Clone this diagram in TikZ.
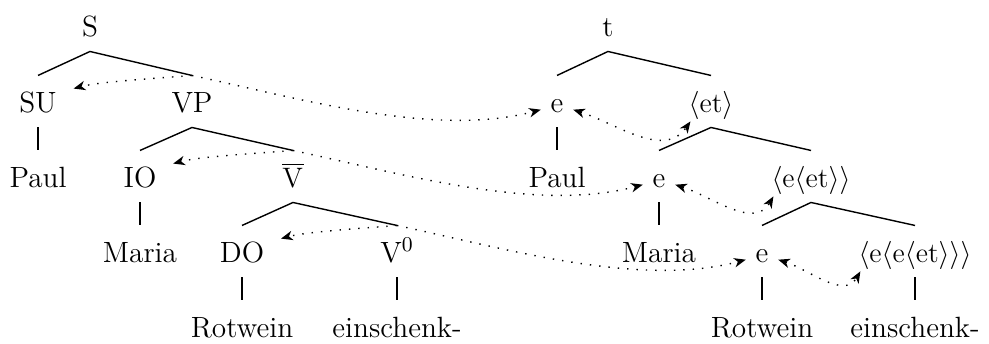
\documentclass[tikz,border=0pt]{standalone}
\usetikzlibrary{positioning, arrows.meta}

\begin{document}
\begin{tikzpicture}[
    x=0.015cm, y=0.015cm,
    >={Stealth[length=5pt, width=4pt, inset=1.5pt]},
    % Styles
    cat/.style={anchor=base, inner xsep=4pt, inner ysep=0pt, text height=15.4pt, text depth=6.4pt, font=\fontsize{12.5}{15}\selectfont},
    branch/.style={line width=0.6pt},
    move/.style={->, line width=0.6pt, dash pattern=on 0.6pt off 3.4pt},
    match/.style={<->, line width=0.6pt, dash pattern=on 0.6pt off 3.4pt}
    ]

    \useasboundingbox (0,0) rectangle (989,-343);

    % 1. Syntactic tree
    \node (S) [cat] at (90,-36) {S};
    \node (SU) [cat] at (38,-112) {SU};
    \node (VP) [cat] at (192,-112) {VP};
    \node (paulL) [cat] at (38,-187) {Paul};
    \node (IO) [cat] at (140,-187) {IO};
    \node (Vbar) [cat] at (293,-187) {$\overline{\mathrm{V}}$};
    \node (mariaL) [cat] at (140,-262) {Maria};
    \node (DO) [cat] at (242,-262) {DO};
    \node (V0) [cat] at (397,-262) {V$^0$};
    \node (rotweinL) [cat] at (242,-337) {Rotwein};
    \node (verbL) [cat] at (397,-337) {einschenk-};

    \draw[branch] (SU.north) -- (S.south) -- (VP.north);
    \draw[branch] (IO.north) -- (VP.south) -- (Vbar.north);
    \draw[branch] (DO.north) -- (Vbar.south) -- (V0.north);
    \draw[branch] (SU.south) -- (paulL.north);
    \draw[branch] (IO.south) -- (mariaL.north);
    \draw[branch] (DO.south) -- (rotweinL.north);
    \draw[branch] (V0.south) -- (verbL.north);

    % 2. Semantic type tree
    \node (t) [cat] at (608,-36) {t};
    \node (e1) [cat] at (557,-112) {e};
    \node (et) [cat] at (711,-112) {$\langle\mathrm{et}\rangle$};
    \node (paulR) [cat] at (557,-187) {Paul};
    \node (e2) [cat] at (659,-187) {e};
    \node (eet) [cat] at (811,-187) {$\langle\mathrm{e}\langle\mathrm{et}\rangle\rangle$};
    \node (mariaR) [cat] at (659,-262) {Maria};
    \node (e3) [cat] at (762,-262) {e};
    \node (eeet) [cat] at (915,-262) {$\langle\mathrm{e}\langle\mathrm{e}\langle\mathrm{et}\rangle\rangle\rangle$};
    \node (rotweinR) [cat] at (762,-337) {Rotwein};
    \node (verbR) [cat] at (915,-337) {einschenk-};

    \draw[branch] (e1.north) -- (t.south) -- (et.north);
    \draw[branch] (e2.north) -- (et.south) -- (eet.north);
    \draw[branch] (e3.north) -- (eet.south) -- (eeet.north);
    \draw[branch] (e1.south) -- (paulR.north);
    \draw[branch] (e2.south) -- (mariaR.north);
    \draw[branch] (e3.south) -- (rotweinR.north);
    \draw[branch] (eeet.south) -- (verbR.north);

    % 3. Dotted correspondences
    \draw[move] (VP.north) to[out=185, in=15, looseness=0.6] ([shift={(3pt,10pt)}]SU.base east);
    \draw[move] (VP.north) to[out=-12, in=195, looseness=0.8] ([yshift=1pt]e1.base west);
    \draw[move] (Vbar.north) to[out=185, in=15, looseness=0.6] ([shift={(3pt,10pt)}]IO.base east);
    \draw[move] (Vbar.north) to[out=-12, in=195, looseness=0.8] ([yshift=1pt]e2.base west);
    \draw[move] (V0.north) to[out=185, in=15, looseness=0.6] ([shift={(3pt,10pt)}]DO.base east);
    \draw[move] (V0.north) to[out=-12, in=195, looseness=0.8] ([yshift=1pt]e3.base west);

    \draw[match] ([yshift=1pt]e1.base east) to[out=-18, in=235] ([shift={(5pt,-4pt)}]et.base west);
    \draw[match] ([yshift=1pt]e2.base east) to[out=-18, in=240] ([shift={(5pt,-4pt)}]eet.base west);
    \draw[match] ([yshift=1pt]e3.base east) to[out=-18, in=240] ([shift={(5pt,-4pt)}]eeet.base west);
\end{tikzpicture}
\end{document}
